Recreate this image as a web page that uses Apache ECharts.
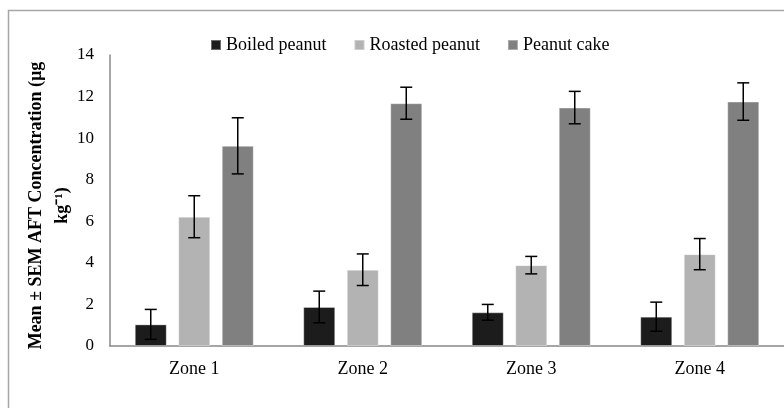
<!DOCTYPE html>
<html><head><meta charset="utf-8">
<script src="https://cdn.jsdelivr.net/npm/echarts@6/dist/echarts.min.js"></script>
<style>html,body{margin:0;padding:0;background:#fff}#c{width:784px;height:408px}</style>
</head><body><div id="c"></div>
<script>
const categories = ['Zone 1', 'Zone 2', 'Zone 3', 'Zone 4'];
const seriesNames = ['Boiled peanut', 'Roasted peanut', 'Peanut cake'];
const boiledMean = [1.04, 1.88, 1.62, 1.41];
const boiledSem = [0.72, 0.76, 0.38, 0.70];
const roastedMean = [6.22, 3.67, 3.89, 4.42];
const roastedSem = [1.01, 0.76, 0.42, 0.75];
const cakeMean = [9.63, 11.68, 11.47, 11.76];
const cakeSem = [1.35, 0.77, 0.78, 0.90];
const yTicks = [0, 2, 4, 6, 8, 10, 12, 14];

const means = [boiledMean, roastedMean, cakeMean];
const sems = [boiledSem, roastedSem, cakeSem];
const colors = ['#1c1c1c', '#b3b3b3', '#808080'];
const FONT = 'Liberation Serif';
const BAR_W = 32, GAP = 11.5;

const chart = echarts.init(document.getElementById('c'), null, {renderer: 'canvas'});

const barSeries = means.map((m, i) => ({
  name: seriesNames[i], type: 'bar', data: m, barWidth: BAR_W, barGap: (GAP / BAR_W * 100) + '%',
  itemStyle: {color: colors[i], borderColor: 'rgba(255,255,255,0.35)', borderWidth: 1},
  emphasis: {disabled: true}, z: 2
}));

const errSeries = means.map((m, i) => ({
  type: 'custom', name: seriesNames[i] + ' SEM', z: 5, silent: true,
  data: m.map((v, k) => [k, v - sems[i][k], v + sems[i][k]]),
  renderItem: function (params, api) {
    const k = api.value(0);
    const lo = api.coord([k, api.value(1)]);
    const hi = api.coord([k, api.value(2)]);
    const x = lo[0] + (i - 1) * (BAR_W + GAP);
    const cap = 6;
    const st = {stroke: '#000', lineWidth: 1.5};
    return {type: 'group', children: [
      {type: 'line', shape: {x1: x, y1: lo[1], x2: x, y2: hi[1]}, style: st},
      {type: 'line', shape: {x1: x - cap, y1: lo[1], x2: x + cap, y2: lo[1]}, style: st},
      {type: 'line', shape: {x1: x - cap, y1: hi[1], x2: x + cap, y2: hi[1]}, style: st}
    ]};
  },
  encode: {x: 0, y: [1, 2]}
}));

chart.setOption({
  animation: false,
  backgroundColor: '#fff',
  textStyle: {fontFamily: FONT},
  graphic: [{type: 'rect', shape: {x: 8.5, y: 10.5, width: 820, height: 440},
    style: {fill: 'none', stroke: '#a6a6a6', lineWidth: 1.5}, z: -1}],
  legend: {
    data: seriesNames, left: 205, top: 31, icon: 'rect', itemWidth: 10, itemHeight: 10, itemGap: 27,
    textStyle: {fontFamily: FONT, fontSize: 18, color: '#000'},
    selectedMode: false
  },
  grid: {left: 110, top: 55, width: 688, bottom: 62, containLabel: false},
  xAxis: {
    type: 'category', data: categories,
    axisLine: {lineStyle: {color: '#888', width: 1.5}}, axisTick: {show: false},
    axisLabel: {fontFamily: FONT, fontSize: 18, color: '#000', margin: 14}
  },
  yAxis: {
    type: 'value', min: yTicks[0], max: yTicks[yTicks.length - 1], interval: 2,
    axisLine: {show: true, lineStyle: {color: '#888', width: 1.5}}, axisTick: {show: false},
    splitLine: {show: false},
    axisLabel: {fontFamily: FONT, fontSize: 17, color: '#000', margin: 16},
    name: 'Mean ± SEM AFT Concentration (µg\nkg⁻¹)',
    nameLocation: 'middle', nameRotate: 90, nameGap: 35, nameMoveOverlap: false,
    nameTextStyle: {fontFamily: FONT, fontSize: 18, fontWeight: 'bold', color: '#000', lineHeight: 26, padding: [0, 10, 0, 0]}
  },
  series: [...barSeries, ...errSeries]
});
</script></body></html>
